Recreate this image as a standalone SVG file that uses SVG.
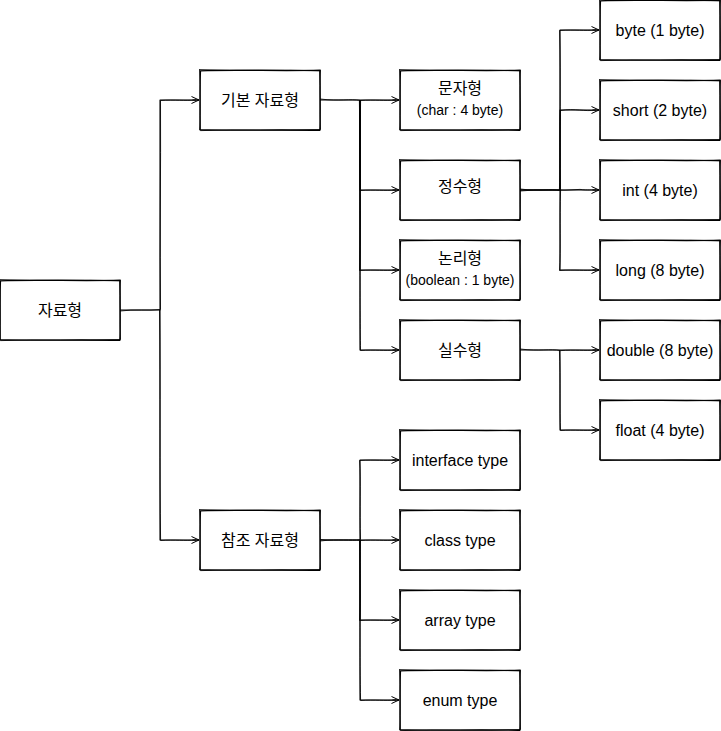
<svg xmlns="http://www.w3.org/2000/svg" width="721" height="731" viewBox="0 0 721 731">
<style>
.bg{fill:#ffffff}
.sk{fill:none;stroke:#000000;stroke-width:1.3;stroke-linejoin:round;stroke-linecap:round}
.sk2{fill:none;stroke:#000000;stroke-width:1;stroke-linejoin:round;stroke-linecap:round;opacity:0.9}
.t{font-family:"Liberation Sans","Noto Sans CJK KR",Arial,sans-serif;font-size:16px;fill:#000000;text-anchor:middle}
.s{font-family:"Liberation Sans","Noto Sans CJK KR",Arial,sans-serif;font-size:14px;fill:#000000;text-anchor:middle}
.e{fill:none;stroke:#000000;stroke-width:1.1;stroke-linejoin:round}
.e2{fill:none;stroke:#000000;stroke-width:1;opacity:0.85}
</style>
<defs>
<g id="box">
<rect class="bg" x="0" y="0" width="120" height="60"/>
<path class="sk" d="M0.5 0.8 C40 -0.5 80 1.4 120.3 0.2 C119.6 20 120.8 40 119.8 60.4 C80 59.2 40 60.9 -0.2 59.7 C0.6 40 -0.5 20 0.5 0.8 Z"/>
<path class="sk2" d="M-0.4 -0.3 C40 1.1 80 -0.9 119.6 0.9 C120.6 20 119.3 40 120.5 59.5 C80 61 40 59.1 0.4 60.6 C-0.6 40 0.8 20 -0.4 -0.3"/>
</g>
<marker id="arr" markerUnits="userSpaceOnUse" markerWidth="10" markerHeight="10" refX="8" refY="4" orient="auto" viewBox="0 0 10 8">
<path d="M0.5 0.5 L8 4 L0.5 7.5 M1.5 4 L8 4" fill="none" stroke="#000000" stroke-width="1"/>
</marker>
</defs>
<g id="connectors">
<path class="e" marker-end="url(#arr)" d="M120 310 L160 310 L160 100 L199 100"/>
<path class="e2" d="M120 311 C135 309 148 311 160.5 309.5 C159.6 240 161 170 160.5 100.5 C175 99.5 185 101 196 100"/>
<path class="e" marker-end="url(#arr)" d="M160 310 L160 540 L199 540"/>
<path class="e2" d="M159.5 310 C160.6 390 159.4 470 160.6 540.5 C175 539.5 185 541 196 540"/>

<path class="e" marker-end="url(#arr)" d="M320 100 L360 100 L399 100"/>
<path class="e2" d="M320 99 C340 101.5 350 98.5 360.5 100.5 C375 99.5 385 101 396 100"/>
<path class="e" marker-end="url(#arr)" d="M360 100 L360 190 L399 190"/>
<path class="e2" d="M359.5 100 C360.6 140 359.4 170 360.6 190.5 C375 189.5 385 191 396 190"/>
<path class="e" marker-end="url(#arr)" d="M360 100 L360 270 L399 270"/>
<path class="e2" d="M360.6 100 C359.5 180 361 230 359.6 270.5 C375 269.5 385 271 396 270"/>
<path class="e" marker-end="url(#arr)" d="M360 100 L360 350 L399 350"/>
<path class="e2" d="M359.4 101 C360.6 200 359.5 300 360.5 350.5 C375 349.5 385 351 396 350"/>

<path class="e" marker-end="url(#arr)" d="M520 190 L560 190 L560 30 L599 30"/>
<path class="e2" d="M520 189 C540 191.5 550 188.6 560.5 190.5 C559.4 130 561 80 559.6 30.5 C575 29.5 585 31 596 30"/>
<path class="e" marker-end="url(#arr)" d="M560 190 L560 110 L599 110"/>
<path class="e2" d="M559.4 190 C560.6 150 559.5 130 560.5 110.5 C575 108 585 112 596 110"/>
<path class="e" marker-end="url(#arr)" d="M520 190 L599 190"/>
<path class="e2" d="M520 191 C540 188.5 560 191.5 580 189.4 C588 190.5 592 189.6 596 190"/>
<path class="e" marker-end="url(#arr)" d="M560 190 L560 270 L599 270"/>
<path class="e2" d="M560.6 190 C559.4 220 561 250 559.5 270.5 C575 269.5 585 271 596 270"/>

<path class="e" marker-end="url(#arr)" d="M520 350 L560 350 L599 350"/>
<path class="e2" d="M520 349 C540 351.5 550 348.5 560.5 350.6 C575 349.5 585 351 596 350"/>
<path class="e" marker-end="url(#arr)" d="M560 350 L560 430 L599 430"/>
<path class="e2" d="M559.4 350 C560.6 380 559.5 410 560.5 430.5 C575 429.5 585 431 596 430"/>

<path class="e" marker-end="url(#arr)" d="M320 540 L360 540 L360 460 L399 460"/>
<path class="e2" d="M320 541 C340 538.5 350 541.5 360.5 539.5 C359.4 510 361 480 359.6 460.5 C375 459.5 385 461 396 460"/>
<path class="e" marker-end="url(#arr)" d="M360 540 L399 540"/>
<path class="e2" d="M320 539.5 C340 541 350 539 360.5 540.5 C375 539.5 385 541 396 540"/>
<path class="e" marker-end="url(#arr)" d="M360 540 L360 620 L399 620"/>
<path class="e2" d="M360.5 540 C359.5 570 361 600 359.6 620.5 C375 619.5 385 621 396 620"/>
<path class="e" marker-end="url(#arr)" d="M360 540 L360 700 L399 700"/>
<path class="e2" d="M359.5 541 C360.6 600 359.4 660 360.6 700.5 C375 699.5 385 701 396 700"/>
</g>
<g id="n-root"><use href="#box" x="0" y="280"/><text class="t" x="60" y="315.5">자료형</text></g>
<g id="n-primitive"><use href="#box" x="200" y="70"/><text class="t" x="260" y="105.5">기본 자료형</text></g>
<g id="n-reference"><use href="#box" x="200" y="510"/><text class="t" x="260" y="545.5">참조 자료형</text></g>
<g id="n-char"><use href="#box" x="400" y="70"/><text class="t" x="460" y="94">문자형</text><text class="s" x="460" y="115">(char : 4 byte)</text></g>
<g id="n-integer"><use href="#box" x="400" y="160"/><text class="t" x="460" y="192">정수형</text></g>
<g id="n-boolean"><use href="#box" x="400" y="240"/><text class="t" x="460" y="264">논리형</text><text class="s" x="460" y="285">(boolean : 1 byte)</text></g>
<g id="n-real"><use href="#box" x="400" y="320"/><text class="t" x="460" y="355.5">실수형</text></g>
<g id="n-interface"><use href="#box" x="400" y="430"/><text class="t" x="460" y="465.5">interface type</text></g>
<g id="n-class"><use href="#box" x="400" y="510"/><text class="t" x="460" y="545.5">class type</text></g>
<g id="n-array"><use href="#box" x="400" y="590"/><text class="t" x="460" y="625.5">array type</text></g>
<g id="n-enum"><use href="#box" x="400" y="670"/><text class="t" x="460" y="705.5">enum type</text></g>
<g id="n-byte"><use href="#box" x="600" y="0"/><text class="t" x="660" y="35.5">byte (1 byte)</text></g>
<g id="n-short"><use href="#box" x="600" y="80"/><text class="t" x="660" y="115.5">short (2 byte)</text></g>
<g id="n-int"><use href="#box" x="600" y="160"/><text class="t" x="660" y="195.5">int (4 byte)</text></g>
<g id="n-long"><use href="#box" x="600" y="240"/><text class="t" x="660" y="275.5">long (8 byte)</text></g>
<g id="n-double"><use href="#box" x="600" y="320"/><text class="t" x="660" y="355.5">double (8 byte)</text></g>
<g id="n-float"><use href="#box" x="600" y="400"/><text class="t" x="660" y="435.5">float (4 byte)</text></g>
</svg>
